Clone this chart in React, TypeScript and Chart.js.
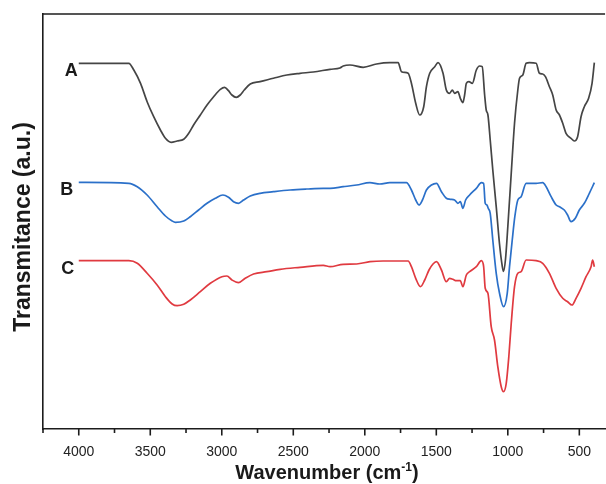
import React, { useEffect, useRef } from 'react';
import { Chart, registerables } from 'chart.js';
Chart.register(...registerables);

// Wavenumber (cm-1) and transmittance (a.u.)
const wnA = [4000, 3650, 3615, 3568, 3522, 3476, 3429, 3394, 3354, 3312, 3266, 3231, 3197, 3150, 3103, 3057, 3010, 2980, 2953, 2929, 2899, 2871, 2843, 2801, 2732, 2639, 2545, 2453, 2360, 2243, 2174, 2151, 2104, 2011, 1918, 1825, 1767, 1743, 1697, 1674, 1644, 1616, 1588, 1569, 1546, 1511, 1488, 1453, 1430, 1407, 1388, 1372, 1349, 1332, 1314, 1302, 1290, 1272, 1248, 1220, 1197, 1179, 1162, 1151, 1139, 1123, 1105, 1081, 1058, 1039, 1030, 1016, 1000, 976, 953, 930, 918, 895, 872, 849, 802, 779, 756, 737, 709, 686, 662, 639, 616, 593, 558, 535, 512, 488, 465, 435, 411, 395];
const tA = [365.7, 365.7, 359, 345.7, 327.3, 312.3, 299, 290.7, 286.7, 288, 289.7, 295.7, 304, 314, 324, 332.3, 339.7, 341.7, 338.3, 334, 331.7, 334, 339, 345, 347.3, 350.7, 354, 355.7, 357, 359.7, 361, 363, 364, 361.7, 365, 366.3, 366.3, 357.3, 355.7, 345.7, 325.7, 314, 322.3, 342.3, 355.7, 362.3, 366.3, 355.7, 339, 335.7, 339, 335.7, 337.3, 330.7, 326.3, 334, 345.7, 347.3, 345.7, 359, 363, 362.3, 334, 319, 314, 289, 259, 222.3, 185, 163, 157.5, 170, 202.3, 255.7, 305.7, 339, 350.7, 354, 365.7, 366.3, 365.7, 355.7, 355, 352.3, 342.3, 334, 319, 314, 305.7, 295.7, 290.7, 288, 292.3, 312.3, 322.3, 330.7, 345.7, 366.3];

const wnB = [4000, 3650, 3591, 3522, 3452, 3394, 3347, 3324, 3266, 3220, 3162, 3103, 3045, 2992, 2953, 2918, 2883, 2848, 2801, 2732, 2639, 2522, 2406, 2290, 2243, 2151, 2057, 1964, 1895, 1825, 1709, 1674, 1644, 1621, 1597, 1569, 1534, 1499, 1464, 1430, 1402, 1372, 1349, 1332, 1314, 1295, 1267, 1220, 1185, 1169, 1158, 1146, 1137, 1123, 1105, 1081, 1058, 1030, 1004, 988, 969, 951, 930, 907, 872, 802, 756, 732, 697, 662, 639, 605, 582, 558, 528, 500, 465, 430, 395];
const tB = [246.7, 245.7, 242.3, 234, 222.3, 213, 208, 206.7, 208, 212.3, 219, 225.7, 230.7, 234, 231.7, 227.3, 225.7, 229, 233, 235.7, 237.3, 239, 240, 240.7, 240.7, 242.3, 244, 246.3, 245, 246.3, 246.3, 239, 229, 224, 229, 239, 244, 245.7, 237.3, 230.7, 229.7, 229, 225.7, 227.3, 220.7, 229, 234, 240.7, 246.3, 245.7, 225.7, 224, 220.7, 215.7, 189, 155.7, 135.7, 122.3, 135.7, 162.3, 189, 212.3, 229, 232.3, 245.7, 245.7, 246.3, 242.3, 232.3, 224, 222.3, 219, 214, 207.3, 210.7, 219, 225.7, 235.7, 246.3];

const wnC = [4000, 3650, 3591, 3522, 3452, 3394, 3347, 3312, 3266, 3220, 3150, 3080, 2999, 2964, 2929, 2883, 2836, 2778, 2685, 2592, 2453, 2290, 2243, 2151, 2057, 1964, 1872, 1778, 1697, 1674, 1644, 1611, 1581, 1551, 1523, 1499, 1464, 1430, 1407, 1384, 1360, 1332, 1314, 1290, 1267, 1220, 1185, 1169, 1158, 1139, 1116, 1093, 1070, 1046, 1030, 1011, 993, 976, 953, 930, 907, 872, 802, 756, 709, 662, 616, 582, 551, 523, 488, 453, 418, 407, 395];
const tC = [168.3, 168.3, 165.7, 155.7, 144, 132.3, 125, 123.3, 124.7, 129, 137.3, 145.7, 152.3, 153, 149, 146.3, 150.7, 155, 157.3, 159.7, 161.7, 163.7, 162.3, 164.7, 165, 167.3, 168, 168, 168, 162.3, 150.7, 142.3, 149, 159, 165, 167.3, 159, 147.3, 150.7, 149.7, 148.3, 148.3, 142.3, 154, 157.3, 162.3, 168.3, 162.3, 140.7, 135.7, 102.3, 89, 62.3, 42.3, 37.3, 45.7, 72.3, 105.7, 142.3, 155.7, 157.3, 169, 168.3, 165.7, 155.7, 140.7, 130.7, 127.3, 124, 130.7, 140.7, 152.3, 162.3, 169, 162.3];

const seriesNames = ['A', 'B', 'C'];
const seriesColors = ['#454545', '#2b70c9', '#e03a40'];
const majorTicks = [4000, 3500, 3000, 2500, 2000, 1500, 1000, 500];
const minorTicks = [4250, 3750, 3250, 2750, 2250, 1750, 1250, 750];
const xTitle = 'Wavenumber (cm';
const xTitleSup = '-1';
const yTitle = 'Transmitance (a.u.)';

const FONT = '"Liberation Sans", Arial, Helvetica, sans-serif';
const AXIS = '#1c1c1c';

const decorPlugin = {
  id: 'decor',
  afterDraw(chart: any) {
    const { ctx, chartArea } = chart;
    const xs = chart.scales.x;
    const ys = chart.scales.y;
    ctx.save();
    // top frame line
    ctx.strokeStyle = AXIS;
    ctx.lineWidth = 1.6;
    ctx.beginPath();
    ctx.moveTo(chartArea.left - 0.8, chartArea.top);
    ctx.lineTo(chartArea.right, chartArea.top);
    ctx.stroke();
    // tick marks
    const b = chartArea.bottom;
    ctx.lineWidth = 1.6;
    majorTicks.forEach((v) => {
      const px = xs.getPixelForValue(v);
      ctx.beginPath();
      ctx.moveTo(px, b);
      ctx.lineTo(px, b + 6.5);
      ctx.stroke();
    });
    minorTicks.forEach((v) => {
      const px = xs.getPixelForValue(v);
      ctx.beginPath();
      ctx.moveTo(px, b);
      ctx.lineTo(px, b + 4);
      ctx.stroke();
    });
    // x title with superscript
    ctx.fillStyle = '#1a1a1a';
    ctx.textBaseline = 'alphabetic';
    ctx.textAlign = 'left';
    const big = `bold 20px ${FONT}`;
    const small = `bold 12px ${FONT}`;
    ctx.font = big;
    const w1 = ctx.measureText(xTitle).width;
    const w3 = ctx.measureText(')').width;
    ctx.font = small;
    const w2 = ctx.measureText(xTitleSup).width;
    const total = w1 + w2 + w3;
    const cx = 327;
    const x0 = cx - total / 2;
    const base = 479;
    ctx.font = big;
    ctx.fillText(xTitle, x0, base);
    ctx.font = small;
    ctx.fillText(xTitleSup, x0 + w1, base - 8);
    ctx.font = big;
    ctx.fillText(')', x0 + w1 + w2, base);
    // y title
    ctx.save();
    ctx.translate(29.5, 227);
    ctx.rotate(-Math.PI / 2);
    ctx.textAlign = 'center';
    ctx.font = `bold 23px ${FONT}`;
    ctx.fillText(yTitle, 0, 0);
    ctx.restore();
    // series labels
    const series = [tA, tB, tC];
    const offsets = [1, 5.5, 4.5];
    ctx.font = `bold 18px ${FONT}`;
    ctx.textAlign = 'right';
    ctx.textBaseline = 'alphabetic';
    series.forEach((arr, i) => {
      const py = ys.getPixelForValue(arr[0]);
      const px = xs.getPixelForValue(4000) - offsets[i];
      ctx.fillText(seriesNames[i], px, py + 13);
    });
    ctx.restore();
  },
};

export default function App() {
  const ref = useRef<HTMLCanvasElement>(null);
  useEffect(() => {
    const canvas = ref.current!;
    const wns = [wnA, wnB, wnC];
    const ts = [tA, tB, tC];
    const chart = new Chart(canvas, {
      type: 'line',
      data: {
        datasets: seriesNames.map((name, i) => ({
          label: name,
          data: wns[i].map((x, j) => ({ x, y: ts[i][j] })),
          borderColor: seriesColors[i],
          backgroundColor: seriesColors[i],
          borderWidth: 1.7,
          pointRadius: 0,
          fill: false,
          cubicInterpolationMode: 'monotone' as const,
        })),
      },
      options: {
        responsive: false,
        animation: false,
        devicePixelRatio: 1,
        layout: { padding: { top: 14, left: 0, right: 0, bottom: 0 } },
        plugins: { legend: { display: false }, tooltip: { enabled: false }, title: { display: false } },
        events: [],
        scales: {
          x: {
            type: 'linear',
            reverse: true,
            min: 320,
            max: 4250,
            afterBuildTicks: (s: any) => {
              s.ticks = majorTicks.map((v) => ({ value: v }));
            },
            afterFit: (s: any) => {
              s.height = 55;
            },
            grid: { display: false, drawTicks: false },
            border: { display: true, color: AXIS, width: 1.6 },
            ticks: {
              autoSkip: false,
              maxRotation: 0,
              padding: 15,
              color: '#222',
              font: { family: FONT, size: 14 },
              callback: (v: any) => String(v),
            },
          },
          y: {
            type: 'linear',
            min: 0,
            max: 415,
            afterFit: (s: any) => {
              s.width = 43;
            },
            grid: { display: false, drawTicks: false },
            border: { display: true, color: AXIS, width: 1.6 },
            ticks: { display: false },
          },
        },
      },
      plugins: [decorPlugin],
    });
    return () => chart.destroy();
  }, []);
  return (
    <div style={{ position: 'fixed', left: 0, top: 0, width: 606, height: 484, background: '#fff' }}>
      <canvas ref={ref} width={606} height={484} style={{ width: 606, height: 484, display: 'block' }} />
    </div>
  );
}
